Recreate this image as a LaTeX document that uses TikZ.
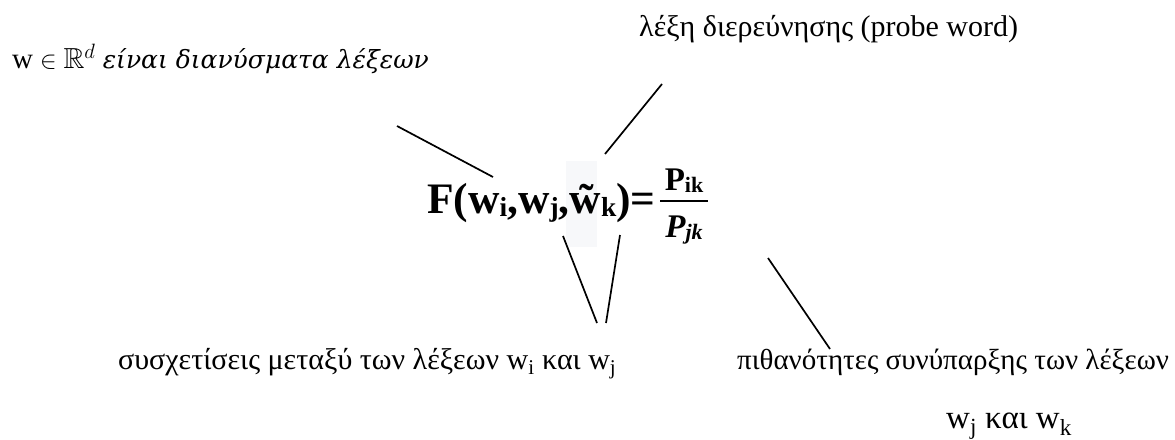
\documentclass[tikz,border=0pt]{standalone}
\usepackage{amsmath,amssymb}
\usepackage{fontspec}
\setmainfont{Liberation Serif}
\newfontfamily\dvserif{DejaVu Serif}
\definecolor{hl}{HTML}{F7F8FA}
\newcommand{\eqsub}[1]{\raisebox{-3pt}{\fontsize{27.5}{28}\selectfont #1}}
\newcommand{\frsub}[1]{\raisebox{-2pt}{\fontsize{22}{22}\selectfont #1}}
\tikzset{
  lbl/.style={inner sep=0pt, anchor=base west, font=\fontsize{30}{34}\selectfont},
  lead/.style={line width=1.7pt, black},
  formula/.style={inner sep=0pt, font=\fontsize{43.5}{50}\selectfont\bfseries},
  fracpart/.style={inner sep=0pt, anchor=base, font=\fontsize{33}{38}\selectfont\bfseries},
}
\begin{document}
\begin{tikzpicture}[x=1pt,y=-1pt]
\useasboundingbox (0,0) rectangle (1175,439);
\fill[hl] (566,161) rectangle (597,247);
% texts
\node[lbl, font=\fontsize{29}{34}\selectfont] (tl) at (12,68) {$\mathrm{w} \in \mathbb{R}^{d}$ {\dvserif\itshape\fontsize{25}{30}\selectfont είναι διανύσματα λέξεων}};
\node[lbl] (tr) at (639,36) {λέξη διερεύνησης (probe word)};
\node[formula, anchor=base west] (eq) at (427,213) {F(w\eqsub{i},w\eqsub{j},\~w\eqsub{k})=};
\node[fracpart] (num) at (684,190) {P\frsub{ik}};
\node[fracpart] (den) at (684,237) {\itshape P\frsub{jk}};
\coordinate (barL) at (660,201);
\coordinate (barR) at (708,201);
\draw[line width=2.6pt] (barL) -- (barR);
\node[lbl] (bl) at (118,369) {συσχετίσεις μεταξύ των λέξεων w\textsubscript{i} και w\textsubscript{j}};
\node[lbl, font=\fontsize{29}{34}\selectfont] (br) at (737,369) {πιθανότητες συνύπαρξης των λέξεων};
\node[lbl, font=\fontsize{33}{38}\selectfont] (br2) at (946,428) {w\textsubscript{j} και w\textsubscript{k}};
% leader lines
\coordinate (a1) at (397,126); \coordinate (a2) at (493,177);
\coordinate (b1) at (662,84);  \coordinate (b2) at (605,154);
\coordinate (c1) at (563,236); \coordinate (c2) at (597,323);
\coordinate (d1) at (620,235); \coordinate (d2) at (606,323);
\coordinate (e1) at (768,258); \coordinate (e2) at (830,349);
\draw[lead] (a1) -- (a2);
\draw[lead] (b1) -- (b2);
\draw[lead] (c1) -- (c2);
\draw[lead] (d1) -- (d2);
\draw[lead] (e1) -- (e2);
\end{tikzpicture}
\end{document}
